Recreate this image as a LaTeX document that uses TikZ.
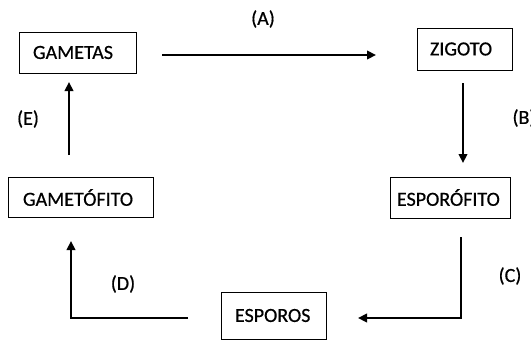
\documentclass[tikz,border=0pt]{standalone}
\usepackage{fontspec}
\setmainfont{Carlito}[FakeBold=0.6]
\usetikzlibrary{arrows.meta}
\begin{document}
\begin{tikzpicture}[x=1pt,y=-1pt,
  box/.style={draw, line width=0.9pt, inner ysep=0pt, align=left,
    font=\fontsize{20}{23}\selectfont},
  lbl/.style={font=\fontsize{20}{23}\selectfont, inner sep=0pt},
  arr/.style={line width=2.3pt, -{Triangle[length=9pt,width=8.5pt]}}]
\useasboundingbox (0,0) rectangle (531,343);
% boxes: center, width, height, pad
\node[box, minimum width=117pt, minimum height=41pt, text width=89pt, inner xsep=14pt] (gam) at (77.5,52.5) {GAMETAS};
\node[box, minimum width=95pt, minimum height=42pt, text width=69pt, inner xsep=13pt] (zig) at (464.5,49) {ZIGOTO};
\node[box, minimum width=145pt, minimum height=40pt, text width=115pt, inner xsep=15pt] (gmf) at (80.5,197.5) {GAMETÓFITO};
\node[box, minimum width=120pt, minimum height=41pt, text width=106pt, inner xsep=7pt] (esf) at (450,197.5) {ESPORÓFITO};
\node[box, minimum width=105pt, minimum height=47pt, text width=77pt, inner xsep=14pt] (esp) at (273.5,315.5) {ESPOROS};
% connector end points
\coordinate (a1) at (162,55); \coordinate (a2) at (376,55);
\coordinate (b1) at (463,83); \coordinate (b2) at (463,163);
\coordinate (c1) at (461,237); \coordinate (c2) at (461,318); \coordinate (c3) at (358,318);
\coordinate (d1) at (188,318); \coordinate (d2) at (71,318); \coordinate (d3) at (71,241);
\coordinate (e1) at (69,155); \coordinate (e2) at (69,82);
\draw[arr] (a1) -- (a2);
\draw[arr] (b1) -- (b2);
\draw[arr] (c1) -- (c2) -- (c3);
\draw[arr] (d1) -- (d2) -- (d3);
\draw[arr] (e1) -- (e2);
% labels
\node[lbl] (la) at (263,19) {(A)};
\node[lbl] (lb) at (524,118) {(B)};
\node[lbl] (lc) at (510,276) {(C)};
\node[lbl] (ld) at (123,284) {(D)};
\node[lbl] (le) at (28,119) {(E)};
\end{tikzpicture}
\end{document}
